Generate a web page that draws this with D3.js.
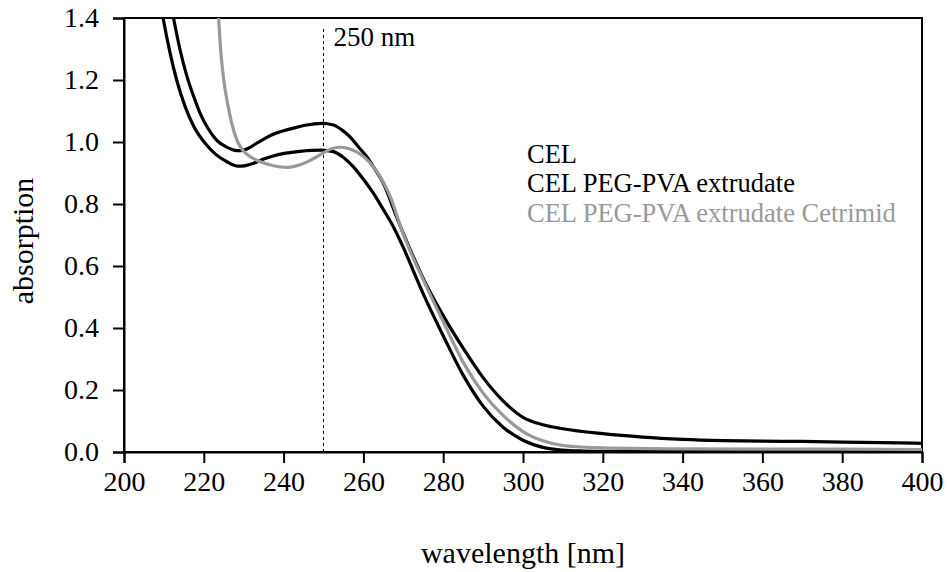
<!DOCTYPE html>
<html>
<head>
<meta charset="utf-8">
<script src="https://cdn.jsdelivr.net/npm/d3@7"></script>
<style>
  html, body { margin: 0; padding: 0; background: #fff; }
  svg { display: block; }
  text { font-family: "Liberation Serif", "Times New Roman", serif; }
</style>
</head>
<body>
<svg id="chart" width="950" height="572"></svg>
<script>
// ---- data ----
const xTicks = [200, 220, 240, 260, 280, 300, 320, 340, 360, 380, 400];
const yTicks = [0.0, 0.2, 0.4, 0.6, 0.8, 1.0, 1.2, 1.4];
const seriesNames = ["CEL", "CEL PEG-PVA extrudate", "CEL PEG-PVA extrudate Cetrimid"];
const seriesColors = ["#000000", "#000000", "#999999"];

// CEL (lower plateau, steep fall to zero)
const wlCEL  = [209.0, 209.8, 211.5, 213.2, 215.3, 217.5, 220.7, 223.0, 225.7, 228.6, 230.5, 232.4, 235.0, 237.4, 240.5, 244.1, 247.0, 249.5, 252.5, 255.0, 257.5, 260.0, 262.5, 265.0, 267.5, 270.0, 272.0, 275.0, 280.0, 285.0, 290.0, 295.0, 300.0, 305.0, 310.0, 315.0, 320.0, 340.0, 360.0, 380.0, 400.0];
const absCEL = [1.46, 1.40, 1.29, 1.20, 1.115, 1.05, 0.99, 0.96, 0.937, 0.922, 0.924, 0.931, 0.945, 0.955, 0.964, 0.970, 0.973, 0.974, 0.969, 0.950, 0.920, 0.880, 0.835, 0.782, 0.727, 0.660, 0.600, 0.510, 0.375, 0.248, 0.148, 0.080, 0.038, 0.015, 0.006, 0.003, 0.002, 0.002, 0.002, 0.002, 0.002];

// CEL PEG-PVA extrudate (higher plateau, scattering tail)
const wlEXT  = [211.6, 212.4, 214.0, 215.7, 217.8, 219.0, 221.0, 223.2, 225.5, 228.4, 230.0, 231.2, 233.5, 235.8, 238.0, 240.8, 243.5, 245.8, 249.5, 252.5, 254.5, 256.6, 258.5, 260.8, 263.0, 265.0, 268.3, 270.0, 272.0, 275.0, 280.0, 285.0, 290.0, 295.0, 300.0, 305.0, 310.0, 320.0, 330.0, 340.0, 350.0, 360.0, 370.0, 380.0, 390.0, 400.0];
const absEXT = [1.45, 1.40, 1.30, 1.215, 1.135, 1.095, 1.045, 1.006, 0.985, 0.972, 0.974, 0.980, 0.998, 1.015, 1.028, 1.039, 1.048, 1.055, 1.060, 1.055, 1.040, 1.017, 0.988, 0.953, 0.910, 0.867, 0.759, 0.705, 0.645, 0.560, 0.440, 0.335, 0.240, 0.165, 0.112, 0.088, 0.075, 0.059, 0.048, 0.041, 0.037, 0.035, 0.034, 0.032, 0.030, 0.028];

// CEL PEG-PVA extrudate Cetrimid (grey)
const wlCET  = [223.4, 223.7, 224.2, 225.0, 225.8, 227.0, 228.5, 230.0, 232.0, 234.0, 237.0, 240.8, 243.0, 245.8, 248.0, 250.0, 252.0, 254.0, 256.0, 258.3, 260.0, 262.5, 265.0, 267.0, 269.6, 272.0, 275.0, 280.0, 285.0, 290.0, 295.0, 300.0, 305.0, 310.0, 320.0, 340.0, 360.0, 380.0, 400.0];
const absCET = [1.45, 1.40, 1.30, 1.20, 1.135, 1.06, 1.00, 0.970, 0.950, 0.937, 0.925, 0.918, 0.922, 0.935, 0.950, 0.965, 0.978, 0.983, 0.980, 0.968, 0.953, 0.920, 0.870, 0.815, 0.716, 0.640, 0.555, 0.420, 0.290, 0.190, 0.118, 0.066, 0.036, 0.021, 0.013, 0.010, 0.009, 0.009, 0.008];

const markerWavelength = [250];
const markerLabel = ["250 nm"];

// ---- layout ----
const svg = d3.select("#chart");
const pLeft = 124, pRight = 922, pTop = 18, pBottom = 452;

const x = d3.scaleLinear().domain([200, 400]).range([pLeft, pRight]);
const y = d3.scaleLinear().domain([0, 1.4]).range([pBottom, pTop]);

svg.append("defs").append("clipPath").attr("id", "clip")
  .append("rect").attr("x", pLeft).attr("y", pTop)
  .attr("width", pRight - pLeft).attr("height", pBottom - pTop);

// frame
svg.append("rect")
  .attr("x", pLeft).attr("y", pTop)
  .attr("width", pRight - pLeft).attr("height", pBottom - pTop)
  .attr("fill", "none").attr("stroke", "#000").attr("stroke-width", 2);

// axes
const xAxis = d3.axisBottom(x).tickValues(xTicks).tickSize(11).tickPadding(8)
  .tickFormat(d3.format("d"));
const gx = svg.append("g").attr("transform", `translate(0,${pBottom})`).call(xAxis);
gx.select(".domain").attr("stroke-width", 2);
gx.selectAll(".tick line").attr("stroke-width", 2);
gx.selectAll(".tick text").attr("font-size", 28).attr("fill", "#000")
  .attr("font-family", "Liberation Serif, serif");

const yAxis = d3.axisLeft(y).tickValues(yTicks).tickSize(11).tickPadding(14)
  .tickFormat(d3.format(".1f"));
const gy = svg.append("g").attr("transform", `translate(${pLeft},0)`).call(yAxis);
gy.select(".domain").attr("stroke-width", 2);
gy.selectAll(".tick line").attr("stroke-width", 2);
gy.selectAll(".tick text").attr("font-size", 28).attr("fill", "#000")
  .attr("font-family", "Liberation Serif, serif");

// marker line
svg.append("line")
  .attr("x1", x(markerWavelength[0])).attr("x2", x(markerWavelength[0]))
  .attr("y1", pTop + 11).attr("y2", pBottom)
  .attr("stroke", "#000").attr("stroke-width", 1).attr("stroke-dasharray", "3,3");
svg.append("text")
  .attr("x", x(markerWavelength[0]) + 10).attr("y", 46)
  .attr("font-size", 27).text(markerLabel[0]);

// series
const series = [
  { name: seriesNames[0], wl: wlCEL, ab: absCEL, color: seriesColors[0] },
  { name: seriesNames[1], wl: wlEXT, ab: absEXT, color: seriesColors[1] },
  { name: seriesNames[2], wl: wlCET, ab: absCET, color: seriesColors[2] }
];
const line = d3.line().x(d => x(d[0])).y(d => y(d[1])).curve(d3.curveMonotoneX);
const gLines = svg.append("g").attr("clip-path", "url(#clip)");
series.forEach(s => {
  gLines.append("path")
    .datum(s.wl.map((w, i) => [w, s.ab[i]]))
    .attr("fill", "none").attr("stroke", s.color)
    .attr("stroke-width", 3.2).attr("stroke-linejoin", "round")
    .attr("d", line);
});

// legend
const legendBaselines = [163, 192, 222];
series.forEach((s, i) => {
  svg.append("text")
    .attr("x", 527).attr("y", legendBaselines[i])
    .attr("font-size", 26.5).attr("fill", s.color)
    .text(s.name);
});

// axis titles
svg.append("text")
  .attr("x", (pLeft + pRight) / 2).attr("y", 563)
  .attr("text-anchor", "middle").attr("font-size", 30)
  .text("wavelength [nm]");
svg.append("text")
  .attr("transform", `translate(33,241) rotate(-90)`)
  .attr("text-anchor", "middle").attr("font-size", 30)
  .text("absorption");
</script>
</body>
</html>
